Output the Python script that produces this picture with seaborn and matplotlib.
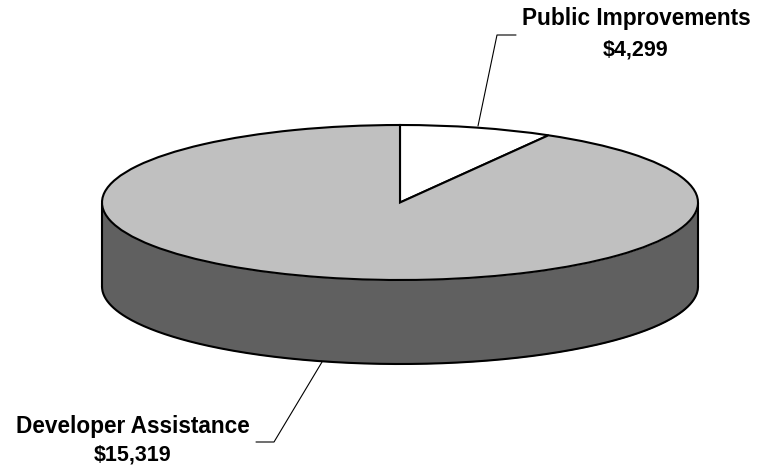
import numpy as np
import matplotlib
matplotlib.use("Agg")
import matplotlib.pyplot as plt
import seaborn as sns

# slice shares as drawn in the picture (the labels carry the dollar amounts)
categories = ["Public Improvements", "Developer Assistance"]
amounts = ["$4,299", "$15,319"]
drawn_share = [0.083, 0.917]
top_colors = ["#FFFFFF", "#C0C0C0"]
side_color = "#606060"

W, H = 757, 467
CX, CY = 400, 202.5
RX, RY = 298, 77.5
DEPTH = 84

sns.set_theme(style="white")
plt.rcParams["font.family"] = ["Liberation Sans", "DejaVu Sans"]

fig = plt.figure(figsize=(W / 100, H / 100), dpi=100)
ax = fig.add_axes([0, 0, 1, 1])

ax.pie(drawn_share, colors=top_colors, startangle=90, counterclock=False,
       radius=1, wedgeprops={"edgecolor": "black", "linewidth": 1.5, "zorder": 3})

# the pie sets an equal aspect, drop it so the circle turns into the flat ellipse
ax.set_aspect("auto")
ax.set_xlim(-CX / RX, (W - CX) / RX)
ax.set_ylim(-(H - CY) / RY, CY / RY)

# side wall of the disc
depth = DEPTH / RY
theta = np.linspace(np.pi, 2 * np.pi, 300)
ax.fill_between(np.cos(theta), np.sin(theta), np.sin(theta) - depth,
                color=side_color, linewidth=0, zorder=1)
ax.plot(np.cos(theta), np.sin(theta) - depth, color="black", lw=1.5, zorder=2)
ax.plot([-1, -1], [0, -depth], color="black", lw=1.5, zorder=2)
ax.plot([1, 1], [0, -depth], color="black", lw=1.5, zorder=2)


def px(x, y):
    return x / W, 1 - y / H


# leader lines
for pts in ([(516, 35), (497, 35), (478, 126)], [(322, 362), (274, 442), (256, 442)]):
    xy = [px(*p) for p in pts]
    ax.plot([p[0] for p in xy], [p[1] for p in xy], color="black", lw=0.8,
            transform=ax.transAxes, zorder=4, clip_on=False)

# labels
label_pos = [(636, 19, 50), (133, 426, 455)]
for name, amount, (x, y1, y2) in zip(categories, amounts, label_pos):
    ax.text(*px(x, y1), name, transform=ax.transAxes, ha="center", va="center",
            fontsize=16.3, fontweight="bold", color="black")
    ax.text(*px(x, y2), amount, transform=ax.transAxes, ha="center", va="center",
            fontsize=15.5, fontweight="bold", color="black")

fig.savefig("out.png", dpi=100)
